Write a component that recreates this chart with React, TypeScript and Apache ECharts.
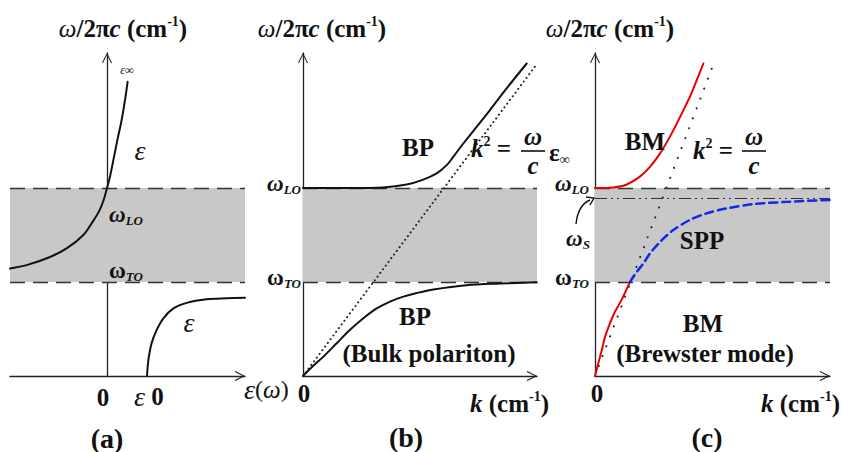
import React, { useEffect, useRef } from 'react';
import * as echarts from 'echarts';

// frequency levels (arbitrary units on the ω axis)
const omegaLO = 5.73;
const omegaTO = 2.87;
const omegaS = 5.42;

// panel (a): [ε, ω]
const epsHigh: number[][] = [[1.03, 8.97], [0.9, 8.41], [0.73, 7.8], [0.52, 7.2], [0.32, 6.59], [0.15, 6.08], [0, 5.73], [-0.17, 5.36], [-0.4, 5.02], [-0.72, 4.7], [-1.18, 4.3], [-2.02, 3.89], [-2.85, 3.63], [-4.02, 3.38], [-4.85, 3.28]];
const epsLow: number[][] = [[2.0, 0], [2.07, 0.49], [2.23, 1.0], [2.48, 1.4], [2.82, 1.76], [3.32, 2.06], [3.98, 2.23], [4.98, 2.34], [5.98, 2.37], [6.9, 2.39]];

// panel (b): [k, ω]
const bpUpper: number[][] = [[0, 5.73], [2.0, 5.73], [3.43, 5.75], [4.43, 5.84], [5.14, 5.99], [5.71, 6.18], [6.14, 6.43], [6.43, 6.69], [6.85, 7.09], [7.42, 7.6], [7.99, 8.11], [8.7, 8.77], [9.56, 9.53]];
const bpLower: number[][] = [[0, 0], [0.44, 0.31], [0.87, 0.59], [1.44, 1.0], [2.0, 1.4], [2.58, 1.76], [3.15, 2.06], [3.72, 2.27], [4.29, 2.42], [4.86, 2.53], [5.57, 2.64], [6.99, 2.77], [8.42, 2.82], [9.99, 2.86]];
const lightB: number[][] = [[0, 0], [9.96, 9.48]];

// panel (c): [k, ω]
const bmUpper: number[][] = [[0, 5.73], [0.78, 5.75], [1.35, 5.84], [1.91, 6.08], [2.34, 6.38], [2.77, 6.79], [3.19, 7.3], [3.62, 7.9], [4.04, 8.52], [4.33, 9.02], [4.61, 9.53]];
const bmLower: number[][] = [[0, 0], [0.14, 0.39], [0.29, 0.79], [0.43, 1.2], [0.64, 1.61], [0.85, 1.96], [1.13, 2.32], [1.49, 2.87]];
const spp: number[][] = [[1.49, 2.87], [1.77, 3.17], [2.06, 3.43], [2.34, 3.74], [2.77, 4.09], [3.33, 4.45], [4.04, 4.76], [4.75, 4.96], [5.6, 5.11], [6.73, 5.24], [8.15, 5.31], [10, 5.37]];
const lightC: number[][] = [[0, 0], [4.97, 9.38]];

const F = 'Liberation Serif, Times New Roman, serif';
const INK = '#111';
const ARROW = 'path://M0,10 L5,0 L10,10 L9.1,10.6 L5,2.4 L0.9,10.6 Z';

const rich: any = {
  b: { fontFamily: F, fontWeight: 'bold', fontSize: 25, lineHeight: 28, color: INK },
  bi: { fontFamily: F, fontWeight: 'bold', fontStyle: 'italic', fontSize: 25, lineHeight: 28, color: INK },
  i: { fontFamily: F, fontStyle: 'italic', fontSize: 25, lineHeight: 28, color: INK },
  n: { fontFamily: F, fontSize: 24, lineHeight: 28, color: INK },
  ei: { fontFamily: F, fontStyle: 'italic', fontSize: 28, lineHeight: 28, color: INK },
  w: { fontFamily: F, fontWeight: 'bold', fontStyle: 'italic', fontSize: 23, lineHeight: 26, color: INK },
  wu: { fontFamily: F, fontWeight: 'bold', fontSize: 23, lineHeight: 26, color: INK },
  sup: { fontFamily: F, fontWeight: 'bold', fontSize: 14, verticalAlign: 'top', color: INK },
  sub: { fontFamily: F, fontWeight: 'bold', fontStyle: 'italic', fontSize: 13, verticalAlign: 'bottom', color: INK },
  subu: { fontFamily: F, fontWeight: 'bold', fontSize: 14, verticalAlign: 'bottom', color: INK },
  tiny: { fontFamily: F, fontStyle: 'italic', fontSize: 12, color: INK },
  big: { fontFamily: F, fontWeight: 'bold', fontSize: 28, lineHeight: 30, color: INK },
};

function T(x: number, y: number, text: string, align = 'center'): any {
  return {
    type: 'text', x, y, z: 100, silent: true,
    style: { text, rich, align, verticalAlign: 'middle', fill: INK, fontFamily: F, fontSize: 25 },
  };
}
function bar(x1: number, x2: number, y: number): any {
  return { type: 'line', z: 100, silent: true, shape: { x1, y1: y, x2, y2: y }, style: { stroke: INK, lineWidth: 1.6 } };
}

const TITLE = '{i|ω}{b|/2π}{bi|c}{b| (cm}{sup|-1}{b|)}';
const KLABEL = '{bi|k}{b| (cm}{sup|-1}{b|)}';

function axisPair(grid: number, xmin: number, xmax: number) {
  const line = {
    show: true, onZero: true,
    symbol: ['none', ARROW], symbolSize: [10, 11], symbolOffset: [0, -5],
    lineStyle: { color: '#222', width: 1.3 },
  };
  return {
    x: { type: 'value', gridIndex: grid, min: xmin, max: xmax, axisLine: line, axisTick: { show: false }, axisLabel: { show: false }, splitLine: { show: false } },
    y: { type: 'value', gridIndex: grid, min: 0, max: 9.85, axisLine: line, axisTick: { show: false }, axisLabel: { show: false }, splitLine: { show: false } },
  };
}

function curve(idx: number, data: number[][], color: string, width: number, type: any = 'solid', z = 5, smooth: any = 0.3): any {
  return {
    type: 'line', xAxisIndex: idx, yAxisIndex: idx, data, showSymbol: false, symbol: 'none', smooth, z, silent: true,
    lineStyle: { color, width, type, cap: 'round' },
  };
}

function band(idx: number, extra: any[] = []): any {
  const dashed = { color: '#333', width: 1.3, type: [15, 8] };
  return {
    type: 'line', xAxisIndex: idx, yAxisIndex: idx, data: [], silent: true, z: 1,
    markArea: { silent: true, itemStyle: { color: '#c8c8c8' }, data: [[{ yAxis: omegaTO }, { yAxis: omegaLO }]] },
    markLine: {
      silent: true, symbol: ['none', 'none'], label: { show: false },
      data: [
        { yAxis: omegaLO, lineStyle: dashed },
        { yAxis: omegaTO, lineStyle: dashed },
        ...extra,
      ],
    },
  };
}

export default function App() {
  const ref = useRef<HTMLDivElement>(null);
  useEffect(() => {
    document.body.style.margin = '0';
    const chart = echarts.init(ref.current!, null, { renderer: 'svg' });
    const a = axisPair(0, -4.85, 6.9);
    const b = axisPair(1, 0, 10);
    const c = axisPair(2, 0, 10);
    chart.setOption({
      animation: false,
      backgroundColor: '#fff',
      grid: [
        { left: 10, width: 235, top: 53, height: 323 },
        { left: 303, width: 234, top: 53, height: 323 },
        { left: 595, width: 235, top: 53, height: 323 },
      ],
      xAxis: [a.x, b.x, c.x],
      yAxis: [a.y, b.y, c.y],
      series: [
        band(0),
        band(1),
        band(2, [{ yAxis: omegaS, lineStyle: { color: '#333', width: 1.2, type: [12, 4, 2, 4, 2, 4] } }]),
        curve(0, epsHigh, '#111', 2),
        curve(0, epsLow, '#111', 2),
        curve(1, lightB, '#222', 2, [0.1, 4.5], 4, false),
        curve(1, bpUpper, '#111', 2),
        curve(1, bpLower, '#111', 2),
        curve(2, lightC, '#222', 2, [0.1, 10.5], 4, false),
        curve(2, bmUpper, '#e80000', 2),
        curve(2, bmLower, '#e80000', 2),
        curve(2, spp, '#1428e8', 2.5, [8, 5], 6),
      ],
      graphic: [
        // titles
        T(123, 28, TITLE), T(322, 28, TITLE), T(610, 28, TITLE),
        // panel (a)
        T(127, 70, '{tiny|ε∞}'),
        T(140, 150, '{ei|ε}'),
        T(109, 214, '{w|ω}{sub|LO}', 'left'),
        T(109, 270, '{wu|ω}{sub|TO}', 'left'),
        T(189, 322, '{ei|ε}'),
        T(103, 397, '{b|0}'),
        T(134, 396, '{ei|ε}{b| 0}', 'left'),
        T(244, 389, '{ei|ε}{n|(}{i|ω}{n|)}', 'left'),
        T(107, 438, '{big|(a)}'),
        // panel (b)
        T(301, 183, '{w|ω}{sub|LO}', 'right'),
        T(301, 277, '{wu|ω}{sub|TO}', 'right'),
        T(418, 147, '{b|BP}'),
        T(471, 148, '{bi|k}{sup|2}{b| =}', 'left'),
        T(533, 136, '{bi|ω}'),
        bar(521, 545, 151),
        T(533, 165, '{bi|c}'),
        T(549, 152, '{b|ε}{subu|∞}', 'left'),
        T(415, 316, '{b|BP}'),
        T(429, 353, '{b|(Bulk polariton)}'),
        T(304, 393, '{b|0}'),
        T(549, 403, KLABEL, 'right'),
        T(406, 437, '{big|(b)}'),
        // panel (c)
        T(589, 183, '{w|ω}{sub|LO}', 'right'),
        T(578, 238, '{w|ω}{sub|S}'),
        T(589, 277, '{wu|ω}{sub|TO}', 'right'),
        T(645, 141, '{b|BM}'),
        T(693, 150, '{bi|k}{sup|2}{b| =}', 'left'),
        T(754, 136, '{bi|ω}'),
        bar(742, 766, 151),
        T(754, 165, '{bi|c}'),
        T(702, 240, '{b|SPP}'),
        T(703, 323, '{b|BM}'),
        T(705, 353, '{b|(Brewster mode)}'),
        T(597, 393, '{b|0}'),
        T(840, 403, KLABEL, 'right'),
        T(707, 437, '{big|(c)}'),
        // ωs pointer
        { type: 'bezierCurve', z: 100, silent: true, shape: { x1: 576, y1: 224, x2: 590, y2: 200, cpx1: 578, cpy1: 205 }, style: { stroke: INK, lineWidth: 1.4, fill: 'none' } },
        { type: 'polyline', z: 100, silent: true, shape: { points: [[586, 197], [594, 198], [590, 205]] }, style: { stroke: INK, lineWidth: 1.4, fill: 'none' } },
      ],
    });
    return () => chart.dispose();
  }, []);
  return <div ref={ref} style={{ position: 'fixed', left: 0, top: 0, width: 843, height: 452, background: '#fff' }} />;
}
